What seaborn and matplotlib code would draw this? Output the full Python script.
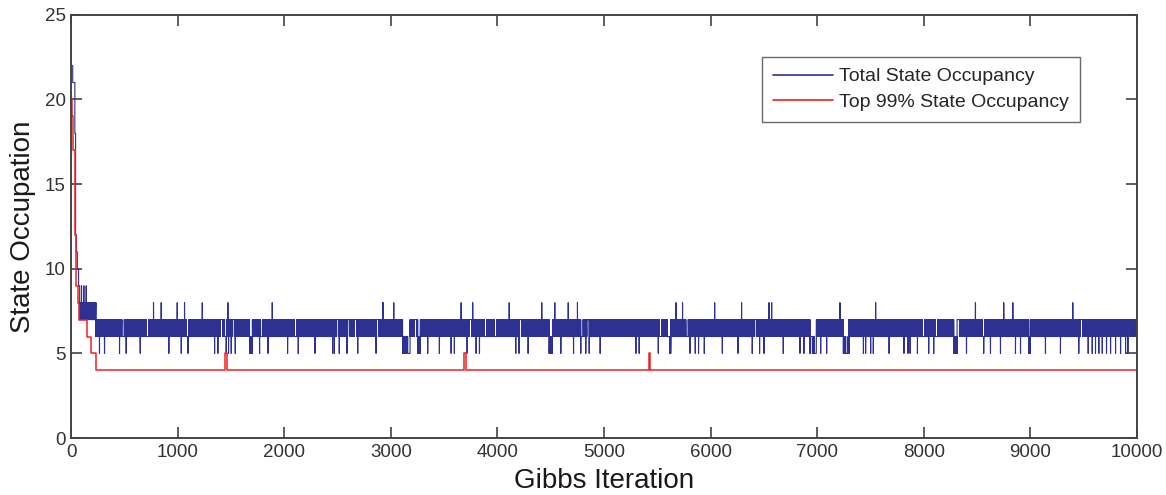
import numpy as np
import pandas as pd
import seaborn as sns
import matplotlib
matplotlib.use("Agg")
import matplotlib.pyplot as plt

# ---------------- data ----------------
n_iter = 10000

# Total state occupancy: burn-in steps (iteration where a level starts, level)
blue_burnin_iters = [0, 15, 35, 42, 48, 58, 70]
blue_burnin_vals = [22, 21, 18, 12, 11, 10, 9]
# early regime: chain switches between 7 and 8, with short visits to 9
early_band = (80, 232)
early_levels = (7, 8)
early_peaks = [97, 119, 141]
# main regime: chain switches between 6 and 7
main_start = 232
main_levels = (6, 7)
# visits to 8
up_spikes = [773, 845, 995, 1064, 1230, 1471, 1887,
             2923, 2927, 3027, 3659, 3768,
             4110, 4416, 4538, 4664, 4751, 5675, 5737,
             6038, 6291, 6548, 6573, 7214, 7549,
             8485, 8751, 8836, 9399]
# visits to 5
down_spikes = [266, 313, 454, 516, 648, 917, 1033, 1096, 1346, 1377, 1455,
               1477, 1502, 1540, 1768, 1847,
               2031, 2131, 2288, 2454, 2470, 2516, 2588, 2689, 2861, 3346,
               3455, 3565, 3596, 3715, 3800, 3831,
               4172, 4203, 4288, 4595, 4714, 4782, 4829, 4861, 4964, 5299,
               5330, 5509, 5806, 5856, 5887, 5941,
               6110, 6257, 6391, 6460, 6501, 6682, 6839, 6876, 7033, 7089,
               7434, 7455, 7502, 7527, 7675, 7815, 7853, 7872, 7941,
               8047, 8094, 8401, 8563, 8626, 8720, 8861, 8908, 9142, 9283,
               9455, 9543, 9581, 9612, 9643, 9675, 9715, 9753, 9800, 9847,
               9894, 9916]
# stretches where the chain switches between 5 and 6
down_blocks = [(1675, 1700), (3111, 3174), (3252, 3277), (4485, 4516),
               (5606, 5628), (6933, 6977), (7246, 7299), (8282, 8313),
               (8986, 9002)]
# iterations where the chain holds still for a while (white gaps in the band)
holds = [476, 704, 901, 1080, 1399, 1440, 1509, 1778,
         2094, 2485, 2595, 2657, 2861, 3158, 3221, 3737, 3878, 3972,
         4203, 4782, 4839, 4955, 5518, 5596, 5768,
         6407, 6485, 6673, 6939, 6970, 7268, 7534, 7988,
         8031, 8110, 8313, 8548, 9471, 9909]

# Top 99% state occupancy: step changes (iteration, level)
red_iters = [0, 8, 16, 35, 47, 60, 75, 151, 182, 230,
             1446, 1458, 3690, 3706, 5420, 5428, 10000]
red_vals = [20, 19, 17, 12, 9, 8, 7, 6, 5, 4,
            5, 4, 5, 4, 5, 4, 4]

labels = ["Total State Occupancy", "Top 99% State Occupancy"]
x_ticks = list(range(0, 10001, 1000))
y_ticks = [0, 5, 10, 15, 20, 25]

# ---------------- build the series ----------------
it = np.arange(n_iter + 1)
blue = np.zeros(n_iter + 1)
for s, v in zip(blue_burnin_iters, blue_burnin_vals):
    blue[s:] = v
a, b = early_band
blue[a:b] = np.where(it[a:b] % 2 == 0, early_levels[0], early_levels[1])
for p in early_peaks:
    blue[p] = 9
blue[main_start:] = np.where(it[main_start:] % 2 == 0, main_levels[0], main_levels[1])
for a, b in down_blocks:
    blue[a:b] = np.where(it[a:b] % 2 == 0, 5, 6)
for p in holds:
    blue[p:p + 22] = blue[p]
for p in up_spikes:
    blue[p] = 8
for p in down_spikes:
    blue[p] = 5

df_blue = pd.DataFrame({"iteration": it, "occupancy": blue})
df_red = pd.DataFrame({"iteration": red_iters, "occupancy": red_vals})

# ---------------- draw ----------------
sns.set_style("white")
plt.rcParams["font.family"] = ["Liberation Sans", "DejaVu Sans"]

fig = plt.figure(figsize=(11.66, 4.95), dpi=100)
ax = fig.add_axes([0.061, 0.115, 0.914, 0.855])

sns.lineplot(data=df_blue, x="iteration", y="occupancy", ax=ax,
             color="#2e3192", linewidth=0.8, drawstyle="steps-post",
             estimator=None, sort=False, label=labels[0])
sns.lineplot(data=df_red, x="iteration", y="occupancy", ax=ax,
             color="#f02020", linewidth=1.1, drawstyle="steps-post",
             estimator=None, sort=False, label=labels[1])

ax.set_xlim(0, 10000)
ax.set_ylim(0, 25)
ax.set_xticks(x_ticks)
ax.set_yticks(y_ticks)
ax.set_xlabel("Gibbs Iteration", fontsize=20, color="#1a1a1a", labelpad=5)
ax.set_ylabel("State Occupation", fontsize=20, color="#1a1a1a", labelpad=6)
ax.tick_params(direction="in", length=8, width=1.1, colors="#333333",
               labelsize=13.5, top=True, right=True, bottom=True, left=True,
               pad=4)
ax.tick_params(labelcolor="#333333")
for sp in ax.spines.values():
    sp.set_visible(True)
    sp.set_color("#444444")
    sp.set_linewidth(1.4)

leg = ax.legend(loc="upper right", bbox_to_anchor=(0.9465, 0.9),
                borderaxespad=0, fontsize=14, handlelength=3.1,
                handletextpad=0.3, labelspacing=0.42, borderpad=0.55,
                frameon=True, fancybox=False, edgecolor="#444444")
leg.get_frame().set_linewidth(1.0)
for line in leg.get_lines():
    line.set_linewidth(1.2)

fig.savefig("out.png", dpi=100)
